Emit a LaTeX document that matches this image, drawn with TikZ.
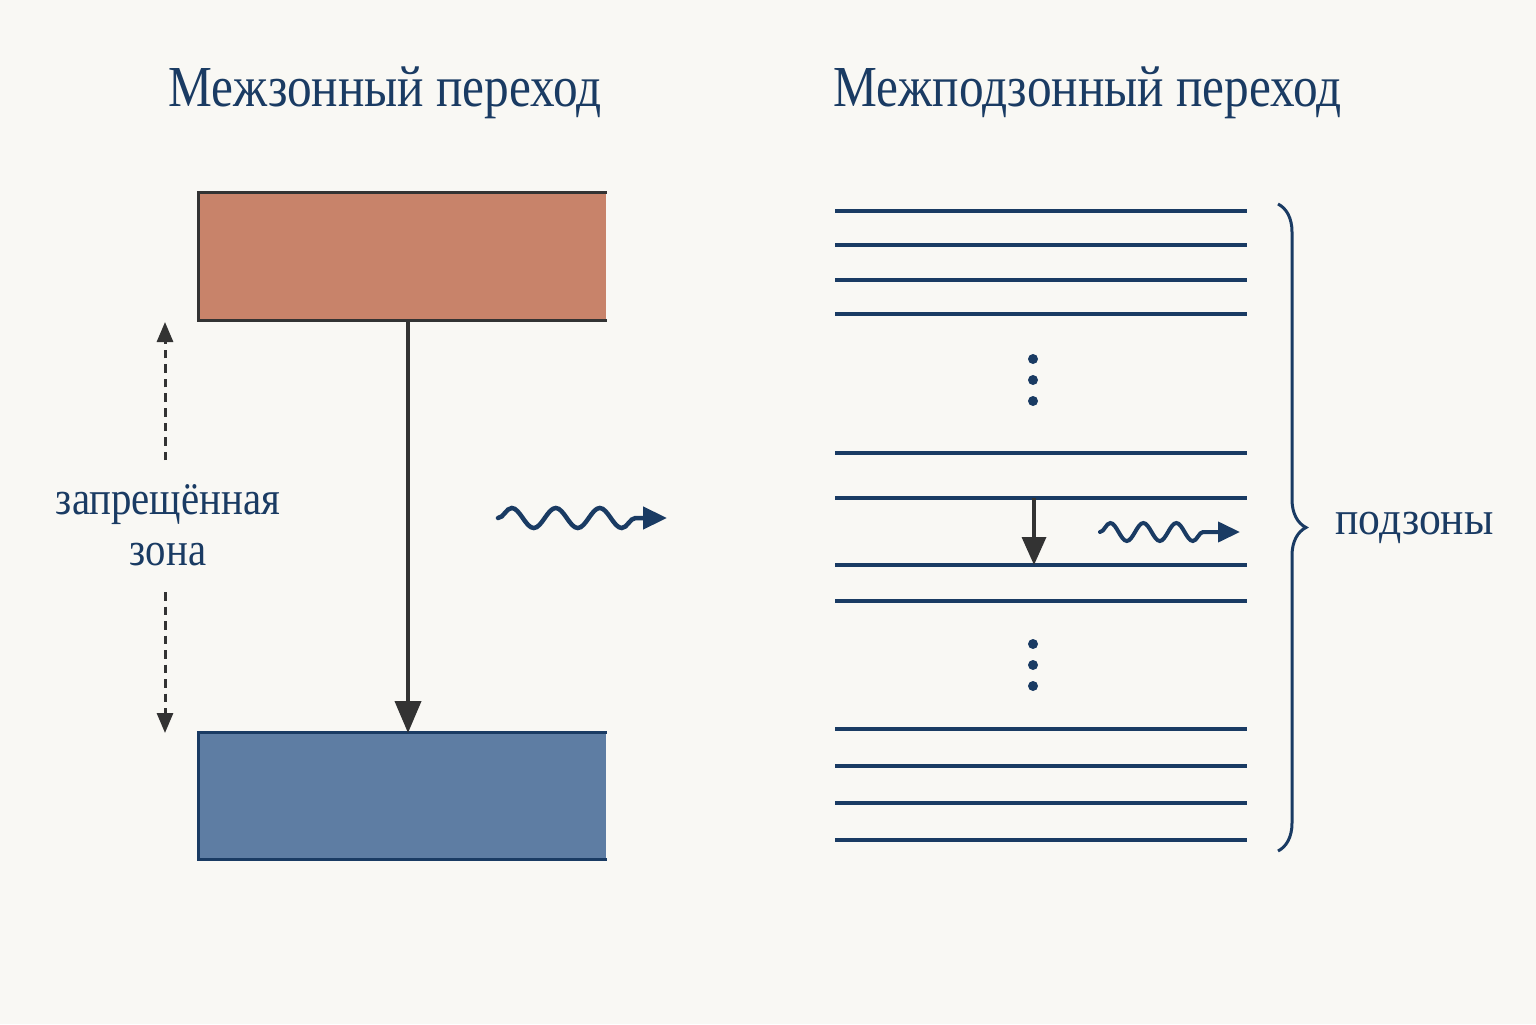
\documentclass[tikz,border=0pt]{standalone}
\usepackage{fontspec}
\setmainfont{Liberation Serif}
\newfontfamily\titlefont[FakeStretch=0.85]{Liberation Serif}
\newfontfamily\labelfont[FakeStretch=0.86]{Liberation Serif}
\newfontfamily\bracefont[FakeStretch=0.92]{Liberation Serif}
\usetikzlibrary{arrows.meta,decorations.pathmorphing,decorations.pathreplacing}
\definecolor{bgcol}{HTML}{F9F8F4}
\definecolor{navy}{HTML}{1A3B63}
\definecolor{darkline}{HTML}{333333}
\definecolor{cbandfill}{HTML}{C8836A}
\definecolor{vbandfill}{HTML}{5E7DA3}
\tikzset{
  band/.style={rectangle, inner sep=0pt, draw=none},
  level/.style={draw=navy, line width=0.035cm},
  wave/.style={draw=navy, line width=0.045cm, line cap=round, decorate,
    decoration={snake, amplitude=0.1cm, segment length=0.44cm, post length=0.15cm},
    -{Triangle[length=0.24cm,width=0.22cm]}},
  gaparrow/.style={draw=darkline, line width=0.03cm, dash pattern=on 0.085cm off 0.06cm,
    -{Triangle[length=0.2cm,width=0.16cm]}},
  levdot/.style={circle, fill=navy, inner sep=0pt, minimum size=0.1cm},
  label/.style={text=navy},
}
\begin{document}
\begin{tikzpicture}
                \fill [bgcol] (0.000000,0.000000) rectangle (15.360000,10.240000);%
                \useasboundingbox (0.000000,0.000000) rectangle (15.360000,10.240000);%
                
                % Marking titles
                \node (titleleft) [anchor=base, text=navy, font=\titlefont\fontsize{16.5}{19}\selectfont] at (3.850000,9.170000) {Межзонный переход};%
                \node (titleright) [anchor=base, text=navy, font=\titlefont\fontsize{16.5}{19}\selectfont] at (10.875000,9.170000) {Межподзонный переход};%
                
                % Drawing conduction band
                \node (cband) [band, fill=cbandfill, minimum width=4.070000cm, minimum height=1.270000cm] at (4.025000,7.675000) {};%
                \draw [darkline, line width=0.03cm] (cband.north east) -- (cband.north west) -- (cband.south west) -- (cband.south east);%
                
                % Drawing valence band
                \node (vband) [band, fill=vbandfill, minimum width=4.070000cm, minimum height=1.260000cm] at (4.025000,2.280000) {};%
                \draw [navy, line width=0.03cm] (vband.north east) -- (vband.north west) -- (vband.south west) -- (vband.south east);%
                
                % Drawing interband transition
                \coordinate (jumptop) at (4.080000,7.040000);%
                \coordinate (jumpbot) at (4.080000,2.910000);%
                \draw [darkline, line width=0.04cm, -{Triangle[length=0.32cm,width=0.26cm]}] (jumptop) -- (jumpbot);%
                
                % Marking band gap
                \node (gap) [label, align=center, font=\labelfont\fontsize{13.5}{14.5}\selectfont] at (1.680000,4.990000) {запрещённая\\зона};%
                \coordinate (gaptop) at (1.650000,7.020000);%
                \coordinate (gapbot) at (1.650000,2.910000);%
                \draw [gaparrow] (1.650000,5.640000) -- (gaptop);%
                \draw [gaparrow] (1.650000,4.320000) -- (gapbot);%
                
                % Drawing photon of interband transition
                \coordinate (photonastart) at (4.980000,5.060000);%
                \coordinate (photonaend) at (6.670000,5.060000);%
                \draw [wave] (photonastart) -- (photonaend);%
                
                % Drawing subband levels
                \foreach \y [count=\i] in {8.13,7.79,7.44,7.10,5.71,5.26,4.59,4.23,2.95,2.58,2.21,1.84} {
                  \coordinate (levw\i) at (8.350000,\y);
                  \coordinate (leve\i) at (12.470000,\y);
                  \draw [level] (levw\i) -- (leve\i);%
                }
                
                % Marking dots between levels
                \foreach \y [count=\i] in {6.65,6.44,6.23,3.80,3.59,3.38}
                  \node (dot\i) [levdot] at (10.330000,\y) {};%
                
                % Drawing intersubband transition
                \coordinate (subtop) at (10.340000,5.260000);%
                \coordinate (subbot) at (10.340000,4.590000);%
                \draw [darkline, line width=0.035cm, -{Triangle[length=0.28cm,width=0.24cm]}] (subtop) -- (subbot);%
                
                % Drawing photon of intersubband transition
                \coordinate (photonbstart) at (11.000000,4.920000);%
                \coordinate (photonbend) at (12.400000,4.920000);%
                \draw [wave, line width=0.04cm, decoration={snake, amplitude=0.09cm, segment length=0.33cm, post length=0.25cm}, -{Triangle[length=0.22cm,width=0.2cm]}] (photonbstart) -- (photonbend);%
                
                % Drawing brace of subbands
                \coordinate (bracetop) at (12.780000,8.200000);%
                \coordinate (bracebot) at (12.780000,1.730000);%
                \draw [navy, line width=0.03cm, decorate, decoration={brace, amplitude=0.28cm}] (bracetop) -- (bracebot);%
                \node (subbands) [label, anchor=west, font=\bracefont\fontsize{13.5}{14.5}\selectfont] at (13.230000,4.960000) {подзоны};%
            \end{tikzpicture}
\end{document}
